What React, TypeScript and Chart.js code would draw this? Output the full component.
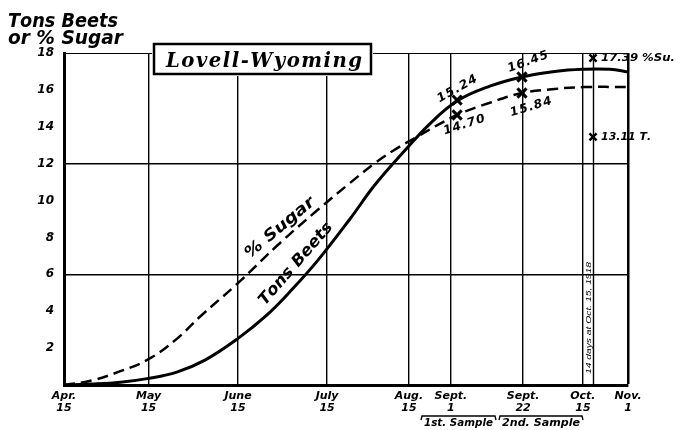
import React, { useEffect, useRef } from 'react';
import { Chart, registerables } from 'chart.js';

Chart.register(...registerables);

// x positions are days after April 15, as drawn on the chart's axis
const tickDays = [0, 30, 61.7, 93.3, 122.3, 137.2, 162.8, 184, 200];
const tickMonths = ['Apr.', 'May', 'June', 'July', 'Aug.', 'Sept.', 'Sept.', 'Oct.', 'Nov.'];
const tickDates = ['15', '15', '15', '15', '15', '1', '22', '15', '1'];
const yTickValues = [0, 2, 4, 6, 8, 10, 12, 14, 16, 18];
const yGridValues = [6, 12, 18];
const octSecondLineDay = 187.6;

// Solid curve (Tons Beets)
const beetDays = [0, 10, 20, 30, 40, 50, 61.5, 72, 81, 89.7, 101.4, 110, 120.2, 130, 139.4, 151, 162.4, 174, 184, 193.6, 200];
const beetValues = [0, 0.05, 0.15, 0.36, 0.7, 1.35, 2.5, 3.8, 5.2, 6.7, 9.0, 10.8, 12.6, 14.2, 15.4, 16.2, 16.7, 17.0, 17.12, 17.12, 16.97];

// Dashed curve (% Sugar)
const sugarDays = [0, 10, 20, 30, 40, 48.2, 61.5, 76.6, 90, 101.4, 110, 116.7, 124.5, 139.4, 151, 162.4, 174, 184, 200];
const sugarValues = [0, 0.25, 0.75, 1.4, 2.5, 3.7, 5.5, 7.7, 9.5, 10.95, 12.0, 12.7, 13.4, 14.64, 15.3, 15.83, 16.05, 16.15, 16.16];

// Sample markers
const sampleDays = [139.4, 162.4];
const beetSampleValues = [15.45, 16.7];
const beetSampleLabels = ['15.24', '16.45'];
const sugarSampleValues = [14.64, 15.83];
const sugarSampleLabels = ['14.70', '15.84'];

// Final readings at Oct. 15
const finalDay = 187.6;
const finalSugarValue = 17.73;
const finalSugarLabel = '17.39 %Su.';
const finalTonsValue = 13.45;
const finalTonsLabel = '13.11 T.';

const titleText = 'Lovell-Wyoming';
const yTitleLines = ['Tons Beets', 'or % Sugar'];
const sugarCurveLabel = '% Sugar';
const beetCurveLabel = 'Tons Beets';
const sampleBrackets = ['1st. Sample', '2nd. Sample'];
const octNote = '14 days at Oct. 15, 1918';

const hand = (s: number) => `italic bold ${s}px "DejaVu Sans"`;
const serifHand = (s: number) => `italic bold ${s}px "DejaVu Serif"`;

function drawText(
  ctx: CanvasRenderingContext2D,
  text: string,
  x: number,
  y: number,
  deg: number,
  font: string,
  target: number,
  align: 'center' | 'left' = 'center',
  baseline: CanvasTextBaseline = 'middle',
  spacing = 0
) {
  ctx.save();
  ctx.font = font;
  const chars = Array.from(text);
  const widths = chars.map((c) => ctx.measureText(c).width);
  const total = widths.reduce((a, b) => a + b, 0) + spacing * (chars.length - 1);
  const sx = target > 0 ? target / total : 1;
  ctx.translate(x, y);
  ctx.rotate((deg * Math.PI) / 180);
  ctx.scale(sx, 1);
  ctx.textAlign = 'left';
  ctx.textBaseline = baseline;
  ctx.fillStyle = '#000';
  let cx = align === 'center' ? -total / 2 : 0;
  chars.forEach((c, i) => {
    ctx.fillText(c, cx, 0);
    cx += widths[i] + spacing;
  });
  ctx.restore();
}

const decorPlugin = {
  id: 'decor',
  beforeDatasetsDraw(chart: any) {
    const { ctx, scales, chartArea } = chart;
    const px = Math.round(scales.x.getPixelForValue(octSecondLineDay)) + 0.5;
    ctx.save();
    ctx.strokeStyle = '#000';
    ctx.lineWidth = 1.4;
    ctx.beginPath();
    ctx.moveTo(px, chartArea.top);
    ctx.lineTo(px, chartArea.bottom);
    ctx.stroke();
    ctx.restore();
  },
  afterDraw(chart: any) {
    const { ctx } = chart;
    const x = chart.scales.x;
    const y = chart.scales.y;

    // Y title
    drawText(ctx, yTitleLines[0], 8, 27, 0, hand(19), 110, 'left', 'alphabetic');
    drawText(ctx, yTitleLines[1], 8, 44, 0, hand(19), 115, 'left', 'alphabetic');

    // Title box
    ctx.save();
    ctx.fillStyle = '#fff';
    ctx.fillRect(152, 42, 221, 34);
    ctx.strokeStyle = '#000';
    ctx.lineWidth = 2.5;
    ctx.strokeRect(154, 44, 217, 30);
    ctx.restore();
    drawText(ctx, titleText, 264, 67, 0, serifHand(20), 196, 'center', 'alphabetic', 1.5);

    // Curve labels
    drawText(ctx, sugarCurveLabel, 280, 228, -40, hand(16), 86);
    drawText(ctx, beetCurveLabel, 296, 264, -49, hand(16), 104);

    // Sample value labels
    const bp = sampleDays.map((d, i) => [x.getPixelForValue(d), y.getPixelForValue(beetSampleValues[i])]);
    const sp = sampleDays.map((d, i) => [x.getPixelForValue(d), y.getPixelForValue(sugarSampleValues[i])]);
    drawText(ctx, beetSampleLabels[0], bp[0][0] + 0, bp[0][1] - 11, -29, hand(12), 44, 'center', 'middle', 1);
    drawText(ctx, beetSampleLabels[1], bp[1][0] + 6, bp[1][1] - 15, -20, hand(12), 42, 'center', 'middle', 1);
    drawText(ctx, sugarSampleLabels[0], sp[0][0] + 7, sp[0][1] + 10, -18, hand(12), 43, 'center', 'middle', 1);
    drawText(ctx, sugarSampleLabels[1], sp[1][0] + 9, sp[1][1] + 14, -17, hand(12), 43, 'center', 'middle', 1);

    // Final readings
    const fx = x.getPixelForValue(finalDay);
    drawText(ctx, finalSugarLabel, fx + 8, y.getPixelForValue(finalSugarValue), 0, hand(11), 74, 'left');
    drawText(ctx, finalTonsLabel, fx + 8, y.getPixelForValue(finalTonsValue), 0, hand(11), 50, 'left');

    // Vertical note between the Oct. 15 lines
    drawText(ctx, octNote, fx - 4.5, 318, -90, 'italic 8px "Liberation Sans"', 112);

    // Sample brackets
    const brackets = [
      [421, 496],
      [499, 583],
    ];
    ctx.save();
    ctx.strokeStyle = '#000';
    ctx.lineWidth = 1.4;
    brackets.forEach(([a, b], i) => {
      ctx.beginPath();
      ctx.moveTo(a, 420);
      ctx.lineTo(a + 1, 416);
      ctx.lineTo(b - 1, 416);
      ctx.lineTo(b, 420);
      ctx.stroke();
      drawText(ctx, sampleBrackets[i], (a + b) / 2, 423.5, 0, hand(10), b - a - 6);
    });
    ctx.restore();
  },
};

export default function App() {
  const ref = useRef<HTMLCanvasElement | null>(null);

  useEffect(() => {
    if (!ref.current) return;
    const chart = new Chart(ref.current, {
      type: 'line',
      data: {
        datasets: [
          {
            data: beetDays.map((d, i) => ({ x: d, y: beetValues[i] })),
            borderColor: '#000',
            borderWidth: 3,
            pointRadius: 0,
            tension: 0.4,
            fill: false,
          },
          {
            data: sugarDays.map((d, i) => ({ x: d, y: sugarValues[i] })),
            borderColor: '#000',
            borderWidth: 2.5,
            borderDash: [11, 6],
            pointRadius: 0,
            tension: 0.4,
            fill: false,
          },
          {
            type: 'scatter',
            data: [
              ...sampleDays.map((d, i) => ({ x: d, y: beetSampleValues[i] })),
              ...sampleDays.map((d, i) => ({ x: d, y: sugarSampleValues[i] })),
            ],
            pointStyle: 'crossRot',
            pointRadius: 6.5,
            pointBorderWidth: 3,
            borderColor: '#000',
            backgroundColor: '#000',
            showLine: false,
          },
          {
            type: 'scatter',
            data: [
              { x: finalDay, y: finalSugarValue },
              { x: finalDay, y: finalTonsValue },
            ],
            pointStyle: 'crossRot',
            pointRadius: 5,
            pointBorderWidth: 2.5,
            borderColor: '#000',
            backgroundColor: '#000',
            showLine: false,
            clip: false,
          },
        ] as any,
      },
      options: {
        responsive: false,
        animation: false,
        devicePixelRatio: 1,
        layout: { padding: { top: 53, right: 53, left: 0, bottom: 0 } },
        plugins: { legend: { display: false }, tooltip: { enabled: false } },
        scales: {
          x: {
            type: 'linear',
            min: 0,
            max: 200,
            afterBuildTicks: (s: any) => {
              s.ticks = tickDays.map((v) => ({ value: v }));
            },
            afterFit: (s: any) => {
              s.height = 45;
            },
            ticks: {
              autoSkip: false,
              maxRotation: 0,
              minRotation: 0,
              padding: 5,
              color: '#000',
              font: { family: 'DejaVu Sans', size: 11, style: 'italic', weight: 'bold', lineHeight: 1.1 },
              callback: (_v: any, i: number) => [tickMonths[i], tickDates[i]],
            },
            grid: {
              drawTicks: false,
              color: (c: any) => (c.index === 0 ? 'rgba(0,0,0,0)' : '#000'),
              lineWidth: (c: any) => (c.index === tickDays.length - 1 ? 2.5 : 1.4),
            },
            border: { display: true, color: '#000', width: 3 },
          },
          y: {
            min: 0,
            max: 18,
            afterBuildTicks: (s: any) => {
              s.ticks = yTickValues.map((v) => ({ value: v }));
            },
            afterFit: (s: any) => {
              s.width = 64;
            },
            ticks: {
              padding: 10,
              color: '#000',
              font: { family: 'DejaVu Sans', size: 12, style: 'italic', weight: 'bold' },
              callback: (v: any) => (v === 0 ? '' : String(v)),
            },
            grid: {
              drawTicks: false,
              color: (c: any) => (c.tick && yGridValues.includes(c.tick.value) ? '#000' : 'rgba(0,0,0,0)'),
              lineWidth: (c: any) => (c.tick && c.tick.value === 18 ? 1 : 1.4),
            },
            border: { display: true, color: '#000', width: 3 },
          },
        },
      } as any,
      plugins: [decorPlugin],
    });
    return () => chart.destroy();
  }, []);

  return (
    <div style={{ position: 'fixed', left: 0, top: 0, width: 681, height: 430, background: '#fff' }}>
      <canvas ref={ref} width={681} height={430} style={{ display: 'block' }} />
    </div>
  );
}
